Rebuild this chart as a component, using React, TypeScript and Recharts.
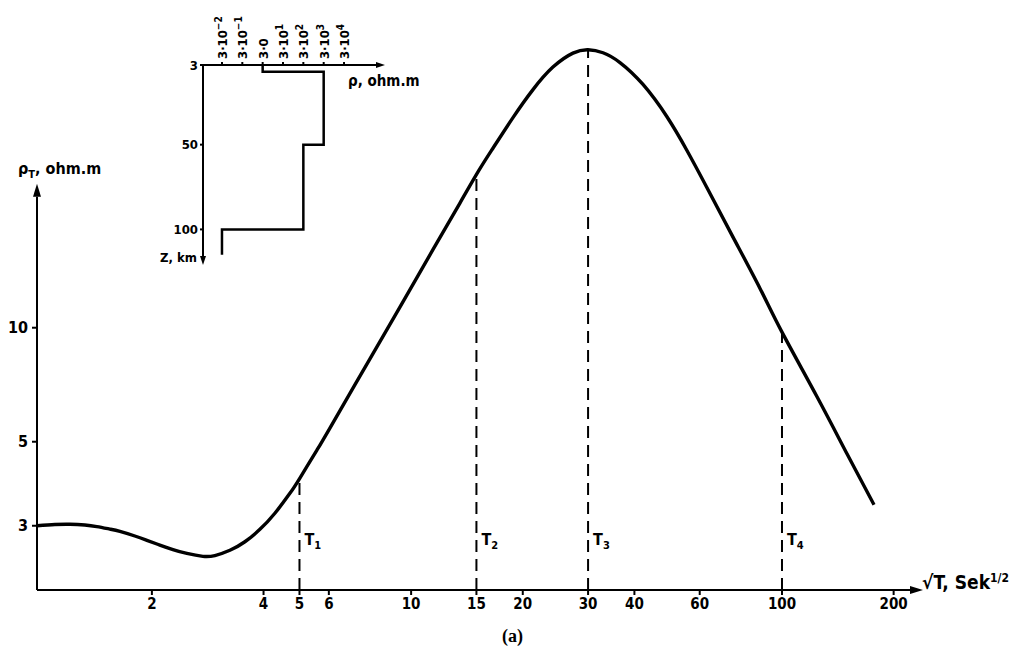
import React from 'react';
import { LineChart, Line, XAxis, YAxis, ReferenceLine } from 'recharts';

// apparent resistivity curve
const sqrtT = [0.98, 1.095, 1.202, 1.319, 1.421, 1.54, 1.64, 1.799, 1.939, 2.101, 2.279, 2.485, 2.745, 2.957, 3.246, 3.563, 3.911, 4.292, 4.711, 5.013, 5.572, 6.04, 7.744, 9.328, 11.45, 13.54, 15.23, 16.62, 18.82, 21.31, 24.12, 27.31, 29.99, 32.91, 36.57, 42.19, 48.96, 55.43, 62.77, 73.78, 87.24, 100, 124.3, 149.7, 177.1];
const rhoT = [3.0, 3.022, 3.027, 3.013, 2.985, 2.94, 2.899, 2.819, 2.746, 2.668, 2.596, 2.535, 2.491, 2.503, 2.584, 2.722, 2.935, 3.237, 3.653, 4.01, 4.751, 5.433, 8.276, 11.34, 16.07, 21.34, 26.01, 29.78, 35.87, 42.53, 48.76, 53.09, 54.2, 53.22, 50.14, 43.88, 36.05, 29.37, 23.42, 17.35, 12.7, 9.735, 6.573, 4.648, 3.408];

const xTicks = [2, 4, 5, 6, 10, 15, 20, 30, 40, 60, 100, 200];
const yTicks = [3, 5, 10];

// tau marks
const tauT = [5, 15, 30, 100];
const tauRho = [4.0, 25.33, 54.2, 9.735];
const tauNames = ['1', '2', '3', '4'];

// layered model (inset)
const layerRho = [3, 3, 3000, 3000, 300, 300, 0.03, 0.03];
const layerDepth = [3, 7, 7, 50, 50, 100, 100, 115];
const insetRhoTicks = [0.03, 0.3, 3, 30, 300, 3000, 30000];
const insetRhoLabels = [['3·10', '−2'], ['3·10', '−1'], ['3·0', ''], ['3·10', '1'], ['3·10', '2'], ['3·10', '3'], ['3·10', '4']];
const depthTicks = [3, 50, 100];

const X_MIN = 0.98, X_MAX = 240, Y_MIN = 2.03, Y_MAX = 60, Y_ARROW = 24;
const R_MIN = 0.0035, R_MAX = 3.1e6, D_MIN = 3, D_MAX = 121;

const font = "'Liberation Sans Narrow', 'DejaVu Sans Condensed', 'Arial Narrow', sans-serif";

const curveRows = sqrtT.map((t, i) => ({ t, rho: rhoT[i] }));
const layerRows = layerRho.map((rho, i) => ({ rho, depth: layerDepth[i] }));

const arrow = (L: number, W: number, sw: number) => (p: any) => {
  const x1 = +p.x1, y1 = +p.y1, x2 = +p.x2, y2 = +p.y2;
  const len = Math.hypot(x2 - x1, y2 - y1) || 1;
  const ux = (x2 - x1) / len, uy = (y2 - y1) / len;
  const bx = x2 - ux * L, by = y2 - uy * L;
  const pts = `${x2},${y2} ${bx - uy * W},${by + ux * W} ${bx + uy * W},${by - ux * W}`;
  return (
    <g>
      <line x1={x1} y1={y1} x2={bx} y2={by} stroke="#000" strokeWidth={sw} />
      <polygon points={pts} fill="#000" />
    </g>
  );
};

const tauShape = (n: string) => (p: any) => (
  <g>
    <line x1={p.x1} y1={p.y1} x2={p.x2} y2={p.y2} stroke="#000" strokeWidth={2} strokeDasharray="12 7" />
    <text x={+p.x1 + 5} y={+p.y1 - 45} fontFamily={font} fontWeight={700} fontSize={16} fill="#000">
      T<tspan fontSize={11} dy={4}>{n}</tspan>
    </text>
  </g>
);

const InsetTick = (p: any) => {
  const i = insetRhoTicks.indexOf(p.payload.value);
  const [base, sup] = insetRhoLabels[i] ?? ['', ''];
  return (
    <text transform={`rotate(-90 ${p.x} ${p.y})`} x={p.x} y={p.y} dy={5} textAnchor="start"
      fontFamily={font} fontWeight={700} fontSize={13} fill="#000">
      {base}
      {sup && <tspan dy={-5} fontSize={10}>{sup}</tspan>}
    </text>
  );
};

const tickStyle = { fill: '#000', fontFamily: font, fontWeight: 700, fontSize: 15 };
const txt = (extra: React.CSSProperties): React.CSSProperties => ({
  position: 'absolute', fontFamily: font, fontWeight: 700, lineHeight: 1, color: '#000', whiteSpace: 'nowrap', ...extra,
});

export default function App() {
  return (
    <div style={{ position: 'absolute', left: 0, top: 0, width: 1034, height: 648, background: '#fff', overflow: 'hidden' }}>
      <LineChart width={1034} height={648} data={curveRows} margin={{ top: 33, right: 111, bottom: 0, left: 0 }}>
        <XAxis dataKey="t" type="number" scale="log" domain={[X_MIN, X_MAX]} allowDataOverflow ticks={xTicks}
          interval={0} axisLine={false} tickLine={{ stroke: '#000', strokeWidth: 2 }} tickSize={5} tickMargin={3}
          height={58} tick={tickStyle} />
        <YAxis type="number" scale="log" domain={[Y_MIN, Y_MAX]} allowDataOverflow ticks={yTicks}
          interval={0} axisLine={false} tickLine={{ stroke: '#000', strokeWidth: 2 }} tickSize={5} tickMargin={4}
          width={37} tick={{ ...tickStyle, fontSize: 16 }} />
        <ReferenceLine segment={[{ x: X_MIN, y: Y_MIN }, { x: X_MAX, y: Y_MIN }]} ifOverflow="visible" shape={arrow(13, 4, 2)} />
        <ReferenceLine segment={[{ x: X_MIN, y: Y_MIN }, { x: X_MIN, y: Y_ARROW }]} ifOverflow="visible" shape={arrow(13, 4, 2)} />
        {tauT.map((t, i) => (
          <ReferenceLine key={t} segment={[{ x: t, y: Y_MIN }, { x: t, y: tauRho[i] }]} ifOverflow="visible" shape={tauShape(tauNames[i])} />
        ))}
        <Line dataKey="rho" type="natural" stroke="#000" strokeWidth={3.4} dot={false} isAnimationActive={false} />
      </LineChart>

      <div style={{ position: 'absolute', left: 150, top: 0 }}>
        <LineChart width={300} height={275} data={layerRows} margin={{ top: 0, right: 65, bottom: 10, left: 0 }}>
          <XAxis dataKey="rho" type="number" orientation="top" scale="log" domain={[R_MIN, R_MAX]} allowDataOverflow
            ticks={insetRhoTicks} interval={0} axisLine={false} tickLine={{ stroke: '#000', strokeWidth: 2 }}
            tickSize={3} tickMargin={3} height={65} tick={<InsetTick />} />
          <YAxis type="number" reversed domain={[D_MIN, D_MAX]} allowDataOverflow ticks={depthTicks} interval={0}
            axisLine={false} tickLine={{ stroke: '#000', strokeWidth: 2 }} tickSize={3} tickMargin={2} width={53}
            tick={{ ...tickStyle, fontSize: 13 }} />
          <ReferenceLine segment={[{ x: R_MIN, y: D_MIN }, { x: R_MAX, y: D_MIN }]} ifOverflow="visible" shape={arrow(9, 3, 2)} />
          <ReferenceLine segment={[{ x: R_MIN, y: D_MIN }, { x: R_MIN, y: D_MAX }]} ifOverflow="visible" shape={arrow(9, 3, 2)} />
          <Line dataKey="depth" type="linear" stroke="#000" strokeWidth={2.5} dot={false} isAnimationActive={false} />
        </LineChart>
      </div>

      <div style={txt({ left: 18, top: 161, fontSize: 16 })}>ρ<sub style={{ fontSize: 11 }}>T</sub>, ohm.m</div>
      <div style={txt({ left: 922, top: 572, fontSize: 19 })}>√T, Sek<sup style={{ fontSize: 12 }}>1/2</sup></div>
      <div style={txt({ left: 502, top: 627, fontSize: 18, fontFamily: "'Liberation Serif', serif" })}>(a)</div>
      <div style={txt({ left: 348, top: 74, fontSize: 15 })}>ρ, ohm.m</div>
      <div style={txt({ left: 160, top: 251, fontSize: 13 })}>Z, km</div>
    </div>
  );
}
